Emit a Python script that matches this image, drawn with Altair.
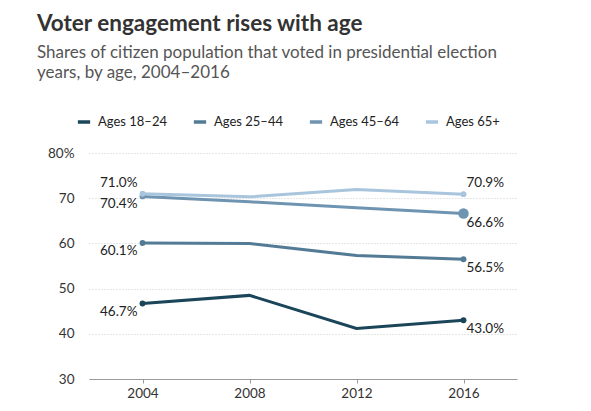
import altair as alt
import pandas as pd

years = [2004, 2008, 2012, 2016]
series = ["Ages 18–24", "Ages 25–44", "Ages 45–64", "Ages 65+"]
ages_18_24 = [46.7, 48.5, 41.2, 43.0]
ages_25_44 = [60.1, 60.0, 57.3, 56.5]
ages_45_64 = [70.4, 69.2, 67.9, 66.6]
ages_65_up = [71.0, 70.3, 71.9, 70.9]
colors = ["#1b4558", "#547b95", "#6f94b1", "#a9c5dd"]

rows = []
for name, vals in zip(series, [ages_18_24, ages_25_44, ages_45_64, ages_65_up]):
    for yr, v in zip(years, vals):
        rows.append({"series": name, "year": yr, "value": v})
df = pd.DataFrame(rows)

FONT = "Lato"

base = alt.Chart(df).encode(
    x=alt.X("year:Q",
            scale=alt.Scale(domain=[2002, 2018], nice=False, zero=False),
            axis=alt.Axis(values=years, format="d", title=None, grid=False,
                          domainColor="#9a9a9a", tickColor="#9a9a9a", tickSize=4,
                          labelFontSize=13.5, labelColor="#333", labelPadding=3,
                          labelFont=FONT)),
    y=alt.Y("value:Q",
            scale=alt.Scale(domain=[30, 80], nice=False, zero=False),
            axis=alt.Axis(values=[30, 40, 50, 60, 70, 80], title=None, domain=False,
                          ticks=False, labelPadding=15, labelFontSize=13.5,
                          labelColor="#333", labelFont=FONT,
                          labelExpr="datum.value == 80 ? '80%' : datum.label",
                          gridColor="#cfcfcf", gridDash=[1, 2], gridWidth=1)),
    color=alt.Color("series:N",
                    scale=alt.Scale(domain=series, range=colors),
                    legend=alt.Legend(title=None, orient="none", direction="horizontal",
                                      legendX=-13, legendY=-39,
                                      symbolType="stroke", symbolStrokeWidth=3.5,
                                      symbolSize=150, labelFontSize=13,
                                      labelFont=FONT, labelColor="#222",
                                      labelOffset=6, columnPadding=19, padding=0)),
)

lines = base.mark_line(strokeWidth=3)

ends = base.mark_point(filled=True, opacity=1, size=35).transform_filter(
    alt.FieldOneOfPredicate(field="year", oneOf=[2004, 2016])
)

big_dot = base.mark_point(filled=True, opacity=1, size=110).transform_filter(
    (alt.datum.year == 2016) & (alt.datum.series == "Ages 45–64")
)

lab = base.transform_calculate(
    label="format(datum.value, '.1f') + '%'"
).encode(text="label:N", color=alt.value("#222"))

text_style = dict(fontSize=13.5, font=FONT)

left_above = lab.mark_text(align="right", dx=-5, dy=-11, **text_style).transform_filter(
    (alt.datum.year == 2004) & (alt.datum.series == "Ages 65+"))
left_below = lab.mark_text(align="right", dx=-5, dy=8, **text_style).transform_filter(
    (alt.datum.year == 2004) & (alt.datum.series != "Ages 65+"))
right_above = lab.mark_text(align="left", dx=3, dy=-11, **text_style).transform_filter(
    (alt.datum.year == 2016) & (alt.datum.series == "Ages 65+"))
right_below = lab.mark_text(align="left", dx=3, dy=9, **text_style).transform_filter(
    (alt.datum.year == 2016) & (alt.datum.series != "Ages 65+"))

chart = alt.layer(
    lines, ends, big_dot, left_above, left_below, right_above, right_below
).properties(
    width=428,
    height=226,
    autosize=alt.AutoSizeParams(type="none"),
    padding={"left": 81, "top": 145, "right": 60, "bottom": 24},
    title=alt.TitleParams(
        text="Voter engagement rises with age",
        subtitle=["Shares of citizen population that voted in presidential election",
                  "years, by age, 2004–2016"],
        anchor="start", frame="group", dx=-52, offset=33,
        font=FONT, fontSize=22.5, fontWeight="bold", color="#333",
        subtitleFont=FONT, subtitleFontSize=17, subtitleColor="#555",
        subtitleLineHeight=20, subtitlePadding=10,
    ),
).configure_view(stroke=None)

chart.save("out.html", embed_options={"renderer": "svg", "actions": False})
